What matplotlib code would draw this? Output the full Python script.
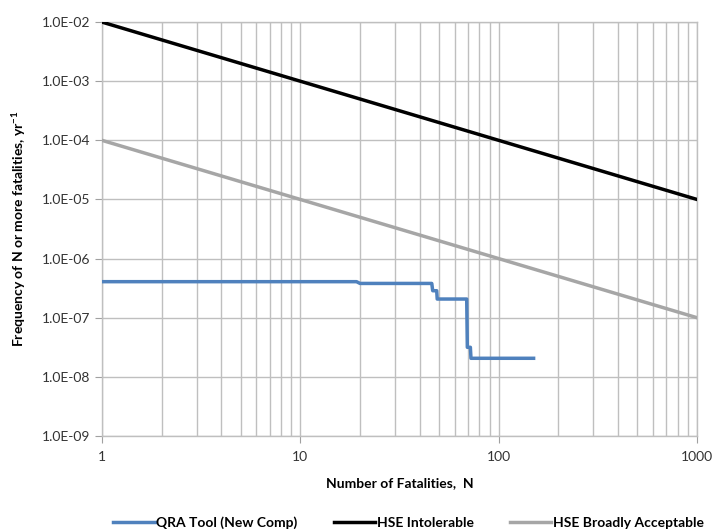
import numpy as np
import matplotlib.pyplot as plt
from matplotlib.ticker import LogLocator, FuncFormatter, NullFormatter

# F-N curve data
qra_n = [1, 19.2, 20, 46, 46.5, 48.7, 49, 69, 69.5, 72, 72.5, 150]
qra_f = [4.07e-7, 4.07e-7, 3.8e-7, 3.8e-7, 2.86e-7, 2.86e-7, 2.07e-7, 2.07e-7,
         3.16e-8, 3.16e-8, 2.06e-8, 2.06e-8]

hse_n = [1, 1000]
hse_intolerable = [1e-2, 1e-5]
hse_broadly = [1e-4, 1e-7]

plt.rcParams['font.family'] = ['Lato', 'DejaVu Sans']

fig = plt.figure(figsize=(7.13, 5.32), dpi=100)
ax = fig.add_axes([0.143, 0.1805, 0.8346, 0.778])

grid_col = '#bfbfbf'
ax.plot(qra_n, qra_f, color='#4f81bd', lw=2.5, label='QRA Tool (New Comp)', zorder=3)
ax.plot(hse_n, hse_intolerable, color='black', lw=2.5, label='HSE Intolerable', zorder=3)
ax.plot(hse_n, hse_broadly, color='#a6a6a6', lw=2.5, label='HSE Broadly Acceptable', zorder=3)

ax.set_xscale('log')
ax.set_yscale('log')
ax.set_xlim(1, 1000)
ax.set_ylim(1e-9, 1e-2)

ax.xaxis.set_major_locator(LogLocator(base=10, numticks=10))
ax.xaxis.set_minor_locator(LogLocator(base=10, subs=np.arange(2, 10), numticks=20))
ax.xaxis.set_minor_formatter(NullFormatter())
ax.xaxis.set_major_formatter(FuncFormatter(lambda v, p: f'{v:g}'))

ax.yaxis.set_major_locator(LogLocator(base=10, numticks=20))
ax.yaxis.set_minor_locator(plt.NullLocator())
ax.yaxis.set_major_formatter(FuncFormatter(lambda v, p: f'{v:.1E}'))

ax.grid(True, which='major', color=grid_col, lw=1.0)
ax.grid(True, which='minor', axis='x', color=grid_col, lw=1.0)

for s in ax.spines.values():
    s.set_color(grid_col)
    s.set_linewidth(1.0)

ax.tick_params(axis='both', which='major', length=5, color='#a0a0a0',
               labelsize=10, labelcolor='#333333')
ax.tick_params(axis='x', which='minor', length=0)
ax.tick_params(axis='x', pad=6)

ax.set_xlabel('Number of Fatalities,  N', fontsize=10, fontweight='bold', labelpad=10)
ax.set_ylabel('Frequency of N or more fatalities, yr$^{\\mathregular{-1}}$',
              fontsize=10, fontweight='bold', labelpad=10)

ax.legend(loc='upper center', bbox_to_anchor=(0.515, -0.165), ncol=3, frameon=False,
          handlelength=3.0, handletextpad=0.1, columnspacing=2.6,
          prop={'weight': 'bold', 'size': 10})

fig.savefig('out.png', dpi=100)
